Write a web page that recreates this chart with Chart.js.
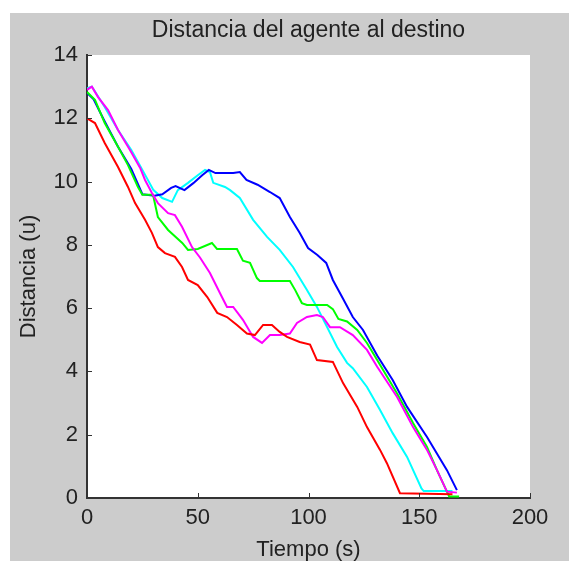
<!DOCTYPE html>
<html>
<head>
<meta charset="utf-8">
<script src="https://cdn.jsdelivr.net/npm/chart.js@4.4.1/dist/chart.umd.min.js"></script>
<style>
  html, body { margin: 0; padding: 0; background: #ffffff; }
</style>
</head>
<body>
<canvas id="myChartDistance" width="569" height="561"></canvas>
<script>
// tick labels
const xTickLabels = [0, 50, 100, 150, 200];
const yTickLabels = [0, 2, 4, 6, 8, 10, 12, 14];

// series: time (s) and distance (u)
const blueTime = [0, 3, 8, 14, 20, 25, 30.5, 34, 38, 40, 44, 48, 52, 55, 58, 66, 69, 72, 77, 82.6, 87, 91.6, 96, 99.8, 104, 108, 111, 115.6, 120, 124.6, 131, 138, 144.5, 153.5, 162.5, 167];
const blueDist = [12.8, 12.6, 11.9, 11.1, 10.4, 9.6, 9.55, 9.6, 9.8, 9.86, 9.73, 9.95, 10.2, 10.37, 10.27, 10.27, 10.3, 10.05, 9.9, 9.67, 9.48, 8.88, 8.38, 7.9, 7.68, 7.43, 6.89, 6.3, 5.72, 5.31, 4.5, 3.73, 2.88, 1.93, 0.88, 0.25];

const cyanTime = [0, 2.2, 8, 14, 20, 25, 30, 34, 38.4, 41, 45.6, 50, 53.3, 55.5, 57, 62.3, 64.6, 69, 75, 81.3, 87, 93, 99.3, 103.8, 108.4, 112.9, 117.4, 120, 126.4, 132.3, 138, 144.5, 151, 152, 165];
const cyanDist = [12.95, 13.0, 12.36, 11.63, 11.0, 10.37, 9.73, 9.48, 9.36, 9.73, 9.96, 10.2, 10.37, 10.3, 9.96, 9.83, 9.73, 9.48, 8.79, 8.25, 7.84, 7.3, 6.57, 6.04, 5.4, 4.77, 4.27, 4.1, 3.51, 2.78, 2.05, 1.3, 0.3, 0.22, 0.22];

const greenTime = [0, 3.6, 8, 14, 18.5, 23, 25, 29.8, 32, 36.6, 43, 45.6, 50, 56.4, 58.7, 67.7, 70.4, 73.6, 76.7, 78, 91.6, 94, 97, 99.3, 108.4, 111, 113.5, 117.4, 122, 126.4, 131, 140, 147.2, 153.5, 158, 162.5, 163.5, 168];
const greenDist = [12.83, 12.58, 11.85, 11.1, 10.52, 9.83, 9.58, 9.58, 8.88, 8.47, 8.06, 7.84, 7.87, 8.06, 7.87, 7.87, 7.5, 7.43, 6.95, 6.86, 6.86, 6.57, 6.16, 6.1, 6.1, 5.97, 5.66, 5.58, 5.31, 4.9, 4.36, 3.3, 2.37, 1.61, 0.88, 0.2, 0.05, 0.05];

const magentaTime = [0, 2.2, 5, 9.5, 14, 19.4, 24, 26.2, 29.3, 32, 36.6, 39.7, 42.9, 47.4, 51, 55.5, 60, 63.2, 66, 70.4, 75, 79, 82.6, 87, 91.6, 94.8, 99.3, 103.8, 106.5, 109.7, 114.2, 120, 126.4, 131, 140, 147.2, 153.5, 158, 162.5, 167];
const magentaDist = [12.9, 13.0, 12.67, 12.26, 11.63, 11.0, 10.43, 10.05, 9.64, 9.32, 9.0, 8.94, 8.57, 7.93, 7.6, 7.11, 6.48, 6.04, 6.04, 5.63, 5.09, 4.9, 5.15, 5.15, 5.2, 5.53, 5.72, 5.78, 5.72, 5.4, 5.4, 5.15, 4.68, 4.15, 3.19, 2.24, 1.52, 0.88, 0.2, 0.17];

const redTime = [0, 3.6, 8, 14, 18.5, 21.7, 26.2, 29.3, 32, 35.2, 39.7, 42.9, 45.6, 50, 54.3, 58.8, 63.2, 67.7, 72.2, 75.8, 79.5, 83.5, 87, 90.3, 96, 100.7, 103.8, 111, 115.6, 122, 126.4, 132.3, 135.4, 141.3, 165];
const redDist = [12.0, 11.85, 11.22, 10.46, 9.83, 9.32, 8.79, 8.38, 7.93, 7.74, 7.62, 7.3, 6.89, 6.73, 6.35, 5.85, 5.72, 5.47, 5.2, 5.15, 5.47, 5.47, 5.25, 5.09, 4.93, 4.85, 4.36, 4.3, 3.63, 2.88, 2.24, 1.52, 1.1, 0.15, 0.12];

const toPoints = (t, d) => t.map((x, i) => ({ x: x, y: d[i] }));

const fontFamily = "'Liberation Sans', Arial, sans-serif";
const textColor = "#222222";
const axisColor = "#333333";

// figure background: gray panel with white plot box
const backgroundPlugin = {
  id: "figureBackground",
  beforeDraw: (chart) => {
    const { ctx, chartArea } = chart;
    ctx.save();
    ctx.fillStyle = "#ffffff";
    ctx.fillRect(0, 0, chart.width, chart.height);
    ctx.fillStyle = "#cccccc";
    ctx.fillRect(10, 13, chart.width - 10, chart.height - 13);
    ctx.fillStyle = "#ffffff";
    ctx.fillRect(chartArea.left, chartArea.top, chartArea.right - chartArea.left, chartArea.bottom - chartArea.top);
    ctx.restore();
  },
};

// inward tick marks and the title over the plot box
const decorPlugin = {
  id: "matlabDecor",
  afterDraw: (chart) => {
    const { ctx, chartArea, scales } = chart;
    ctx.save();
    ctx.strokeStyle = axisColor;
    ctx.lineWidth = 1;
    scales.x.ticks.forEach((t) => {
      const px = Math.round(scales.x.getPixelForValue(t.value)) + 0.5;
      ctx.beginPath();
      ctx.moveTo(px, chartArea.bottom);
      ctx.lineTo(px, chartArea.bottom - 5);
      ctx.stroke();
    });
    scales.y.ticks.forEach((t) => {
      const py = Math.round(scales.y.getPixelForValue(t.value)) + 0.5;
      ctx.beginPath();
      ctx.moveTo(chartArea.left, py);
      ctx.lineTo(chartArea.left + 5, py);
      ctx.stroke();
    });
    ctx.fillStyle = textColor;
    ctx.font = "23px " + fontFamily;
    ctx.textAlign = "center";
    ctx.textBaseline = "middle";
    ctx.fillText("Distancia del agente al destino", (chartArea.left + chartArea.right) / 2, 31);
    ctx.restore();
  },
};

const ctx = document.getElementById("myChartDistance").getContext("2d");
const myChart = new Chart(ctx, {
  type: "line",
  data: {
    datasets: [
      { label: "red", data: toPoints(redTime, redDist), borderColor: "#ff0000" },
      { label: "magenta", data: toPoints(magentaTime, magentaDist), borderColor: "#ff00ff" },
      { label: "green", data: toPoints(greenTime, greenDist), borderColor: "#00ff00" },
      { label: "blue", data: toPoints(blueTime, blueDist), borderColor: "#0000ff" },
      { label: "cyan", data: toPoints(cyanTime, cyanDist), borderColor: "#00ffff" },
    ],
  },
  options: {
    responsive: false,
    animation: false,
    devicePixelRatio: 1,
    layout: { padding: { left: 10, right: 39, top: 55, bottom: 0 } },
    elements: {
      line: { borderWidth: 2, tension: 0, fill: false },
      point: { radius: 0 },
    },
    plugins: {
      legend: { display: false },
      tooltip: { enabled: false },
      title: { display: false },
    },
    scales: {
      x: {
        type: "linear",
        min: 0,
        max: 200,
        afterBuildTicks: (scale) => {
          scale.ticks = xTickLabels.map((v) => ({ value: v }));
        },
        afterFit: (scale) => {
          scale.height = 561 - 498;
        },
        ticks: {
          color: textColor,
          font: { family: fontFamily, size: 22 },
          padding: 7,
          maxRotation: 0,
        },
        grid: { drawOnChartArea: false, drawTicks: false },
        border: { display: true, color: axisColor, width: 2 },
        title: {
          display: true,
          text: "Tiempo (s)",
          color: textColor,
          font: { family: fontFamily, size: 22, lineHeight: 1 },
          padding: { top: 0, bottom: 0 },
        },
      },
      y: {
        type: "linear",
        min: 0,
        max: 14,
        afterBuildTicks: (scale) => {
          scale.ticks = yTickLabels.map((v) => ({ value: v }));
        },
        afterFit: (scale) => {
          scale.width = 87 - 10;
        },
        ticks: {
          color: textColor,
          font: { family: fontFamily, size: 22 },
          padding: 9,
        },
        grid: { drawOnChartArea: false, drawTicks: false },
        border: { display: true, color: axisColor, width: 2 },
        title: {
          display: true,
          text: "Distancia (u)",
          color: textColor,
          font: { family: fontFamily, size: 22, lineHeight: 1 },
          padding: { top: 8, bottom: 0 },
        },
      },
    },
  },
  plugins: [backgroundPlugin, decorPlugin],
});
</script>
</body>
</html>
